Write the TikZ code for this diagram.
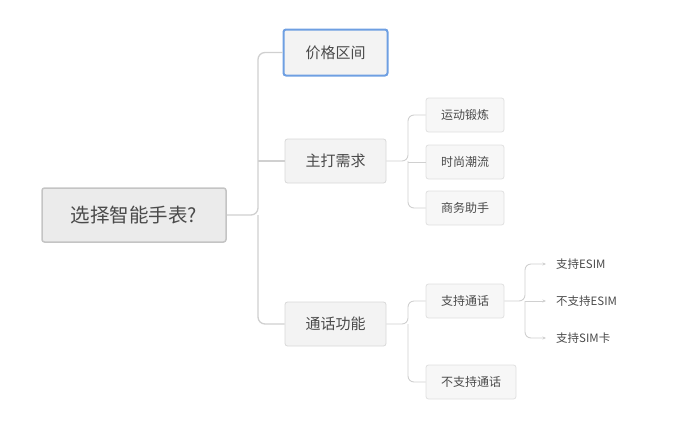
\documentclass[tikz,border=0pt]{standalone}
\usepackage{fontspec}
\setmainfont{Noto Sans CJK SC}
\usetikzlibrary{positioning,arrows.meta}

\definecolor{linegray}{HTML}{D0D0D0}
\definecolor{rootfill}{HTML}{EBEBEB}
\definecolor{rootline}{HTML}{C4C4C4}
\definecolor{topicfill}{HTML}{F3F3F3}
\definecolor{topicline}{HTML}{D8D8D8}
\definecolor{subfill}{HTML}{F7F7F7}
\definecolor{subline}{HTML}{E0E0E0}
\definecolor{selblue}{HTML}{6E9FE2}
\definecolor{txtgray}{HTML}{4A4A4A}

\tikzset{
  rootbox/.style={draw=rootline, fill=rootfill, line width=1.5pt, rounded corners=2.5pt,
    minimum width=184, minimum height=54, text=txtgray, font=\fontsize{19.5}{21}\selectfont},
  topicbox/.style={draw=topicline, fill=topicfill, line width=0.8pt, rounded corners=2.5pt,
    minimum width=101, minimum height=44, text=txtgray, font=\fontsize{15}{17}\selectfont},
  selbox/.style={topicbox, draw=selblue, line width=2pt, minimum width=104, minimum height=46},
  subbox/.style={draw=subline, fill=subfill, line width=0.8pt, rounded corners=2.5pt,
    minimum width=78, minimum height=34, text=txtgray, font=\fontsize{12}{14}\selectfont},
  leaf/.style={anchor=west, inner sep=0pt, text=txtgray, font=\fontsize{11.5}{13}\selectfont},
  conn/.style={draw=linegray, line width=1.3pt, rounded corners=7pt},
  thin conn/.style={draw=linegray, line width=0.9pt, rounded corners=6pt},
}

\begin{document}
\begin{tikzpicture}[x=1pt, y=-1pt]
  \useasboundingbox (0,0) rectangle (680,421);

  % Root
  \node[rootbox] (root) at (134,215) {选择智能手表?};

  % First level
  \node[selbox] (price) at (335.5,52.5) {价格区间};
  \node[topicbox] (need) at (335.5,161) {主打需求};
  \node[topicbox] (call) at (335.5,324) {通话功能};

  \coordinate (j1) at (258,215);
  \draw[conn] (root.east) -- (j1) |- (price.west);
  \draw[conn] (j1) |- (call.west);
  \draw[conn] (j1 |- need.west) -- (need.west);

  % Needs
  \node[subbox] (sport) at (465,115) {运动锻炼};
  \node[subbox] (fashion) at (465,162) {时尚潮流};
  \node[subbox] (business) at (465,208) {商务助手};

  \coordinate (j2) at (408,161);
  \draw[thin conn] (need.east) -- (j2) |- (sport.west);
  \draw[thin conn] (j2) |- (business.west);
  \draw[thin conn] (j2 |- fashion.west) -- (fashion.west);

  % Calls
  \node[subbox] (callyes) at (465,301) {支持通话};
  \node[subbox, minimum width=90] (callno) at (471,382) {不支持通话};

  \coordinate (j3) at (408,324);
  \draw[thin conn] (call.east) -- (j3) |- (callyes.west);
  \draw[thin conn] (j3) |- (callno.west);

  % Leaves
  \node[leaf] (esim) at (556,264) {支持ESIM};
  \node[leaf] (noesim) at (556,301) {不支持ESIM};
  \node[leaf] (simcard) at (556,338) {支持SIM卡};

  \coordinate (j4) at (525,301);
  \draw[thin conn, -{Stealth[length=3.5pt, width=3pt]}] (callyes.east) -- (j4) |- ([xshift=-10pt]esim.west);
  \draw[thin conn, -{Stealth[length=3.5pt, width=3pt]}] (j4) |- ([xshift=-10pt]simcard.west);
  \draw[thin conn, -{Stealth[length=3.5pt, width=3pt]}] (j4) -- ([xshift=-10pt]noesim.west);
\end{tikzpicture}
\end{document}
